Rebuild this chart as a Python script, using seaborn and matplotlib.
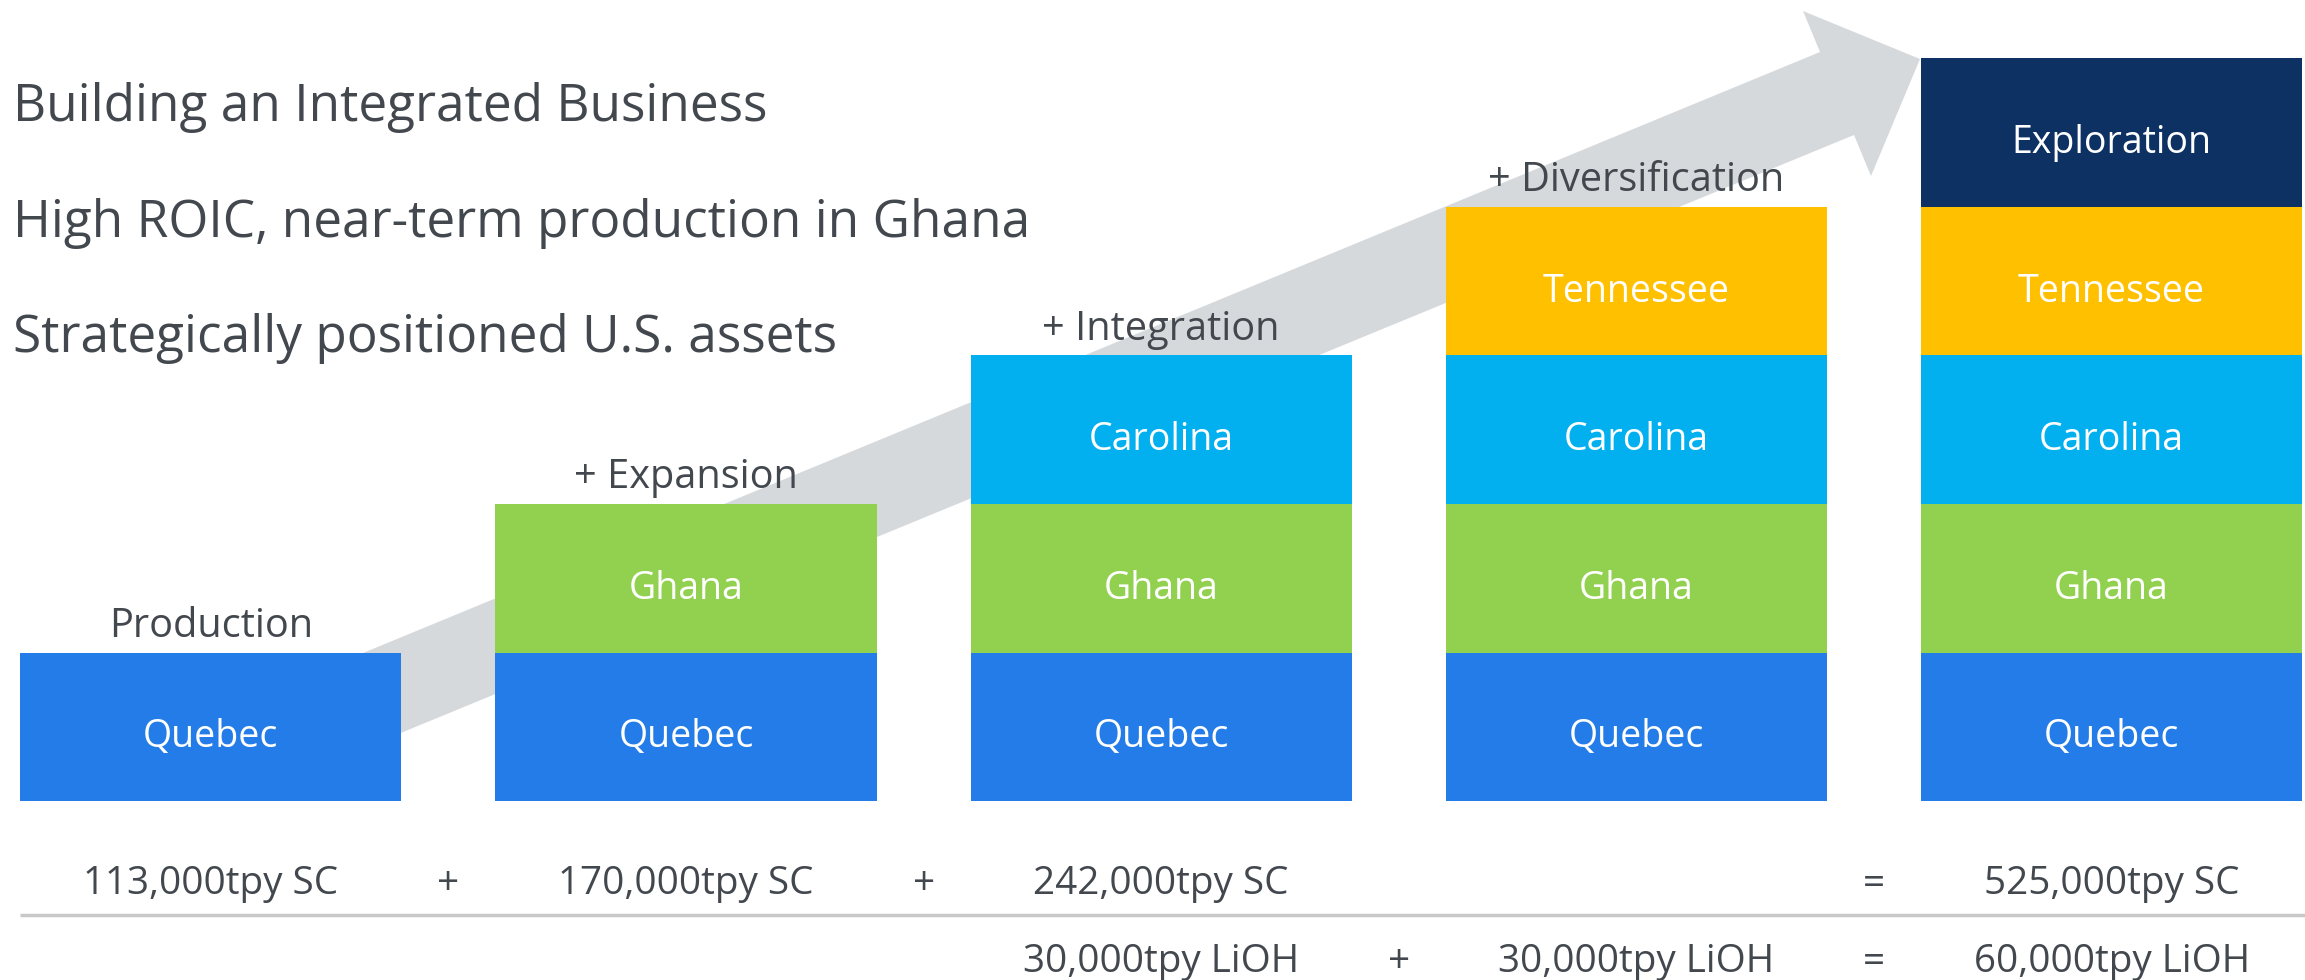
import numpy as np
import pandas as pd
import matplotlib
matplotlib.use("Agg")
import matplotlib.pyplot as plt
from matplotlib.patches import Polygon
import seaborn as sns

# ---------------- data ----------------
stages = ["Production", "+ Expansion", "+ Integration", "+ Diversification", "Total"]
stage_labels = ["Production", "+ Expansion", "+ Integration", "+ Diversification", ""]
layers = ["Quebec", "Ghana", "Carolina", "Tennessee", "Exploration"]
quebec = [1, 1, 1, 1, 1]
ghana = [0, 1, 1, 1, 1]
carolina = [0, 0, 1, 1, 1]
tennessee = [0, 0, 0, 1, 1]
exploration = [0, 0, 0, 0, 1]
sc_labels = ["113,000tpy SC", "170,000tpy SC", "242,000tpy SC", "", "525,000tpy SC"]
sc_ops = ["+", "+", "", "="]          # operators between consecutive stages
lioh_labels = ["", "", "30,000tpy LiOH", "30,000tpy LiOH", "60,000tpy LiOH"]
lioh_ops = ["", "", "+", "="]
headlines = ["Building an Integrated Business",
             "High ROIC, near-term production in Ghana",
             "Strategically positioned U.S. assets"]

colors = {"Quebec": "#237CE7", "Ghana": "#92D150", "Carolina": "#02B0EF",
          "Tennessee": "#FFC000", "Exploration": "#0E3163"}
TEXT = "#43484F"

# ---------------- layout ----------------
W, H = 2305, 980
fig = plt.figure(figsize=(W / 100, H / 100), dpi=100)
ax = fig.add_axes([0, 0, 1, 1])
sns.set_style("white")
plt.rcParams["font.family"] = ["Open Sans", "DejaVu Sans"]

x0_px, step_px = 210.8, 475.2     # category centre / spacing in pixels
base_px, unit_px = 801.0, 148.5   # baseline (from top) and one layer height


def px2x(px):
    return (px - x0_px) / step_px


def py2y(py):
    return (base_px - py) / unit_px


ax.set_xlim(px2x(0), px2x(W))
ax.set_ylim(py2y(H), py2y(0))

# ---------------- stacked bars (overlay of cumulative totals) ----------------
vals = np.array([quebec, ghana, carolina, tennessee, exploration], dtype=float)
cum = np.cumsum(vals, axis=0)
for li in range(len(layers) - 1, -1, -1):
    df = pd.DataFrame({"stage": stages, "h": cum[li]})
    sns.barplot(data=df, x="stage", y="h", order=stages, color=colors[layers[li]],
                width=0.802, saturation=1, edgecolor="none", linewidth=0,
                ax=ax, zorder=3)
ax.set_xlim(px2x(0), px2x(W))
ax.set_ylim(py2y(H), py2y(0))
ax.axis("off")

# labels inside segments
for li, name in enumerate(layers):
    for si in range(len(stages)):
        if vals[li, si] > 0:
            ax.text(si, cum[li, si] - vals[li, si] / 2 - 0.04, name, color="white",
                    fontsize=27, ha="center", va="center_baseline", zorder=5)

# stage labels above bars
for si, lab in enumerate(stage_labels):
    if lab:
        ax.text(si, cum[-1, si] + 0.21, lab, color=TEXT, fontsize=28.6,
                ha="center", va="center_baseline", zorder=5)

# ---------------- background arrow ----------------
arrow_px = [(250, 699.6), (1820, 52), (1803, 11), (1920, 59),
            (1871, 176), (1854, 135), (250, 795)]
arrow = Polygon([(px2x(a), py2y(b)) for a, b in arrow_px], closed=True,
                facecolor="#D6D9DC", edgecolor="none", zorder=1)
ax.add_patch(arrow)

# ---------------- headlines ----------------
for i, t in enumerate(headlines):
    ax.text(px2x(13), py2y(102 + 115.5 * i), t, color=TEXT, fontsize=37,
            ha="left", va="center_baseline", zorder=5)

# ---------------- production rows ----------------
y_sc, y_line, y_lioh = py2y(879), py2y(915), py2y(957)
FS = 27.8
for si in range(len(stages)):
    if sc_labels[si]:
        ax.text(si, y_sc, sc_labels[si], color=TEXT, fontsize=FS,
                ha="center", va="center_baseline")
    if lioh_labels[si]:
        ax.text(si, y_lioh, lioh_labels[si], color=TEXT, fontsize=FS,
                ha="center", va="center_baseline")
for oi in range(len(stages) - 1):
    if sc_ops[oi]:
        ax.text(oi + 0.5, y_sc, sc_ops[oi], color=TEXT, fontsize=FS,
                ha="center", va="center_baseline")
    if lioh_ops[oi]:
        ax.text(oi + 0.5, y_lioh, lioh_ops[oi], color=TEXT, fontsize=FS,
                ha="center", va="center_baseline")
ax.plot([px2x(20), px2x(W)], [y_line, y_line], color="#C8C8C8", lw=2.5,
        solid_capstyle="butt")

fig.savefig("out.png", dpi=100, facecolor="white")
